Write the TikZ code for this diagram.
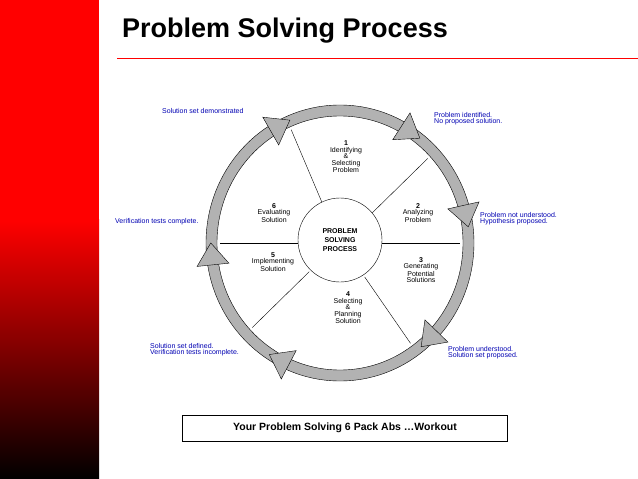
\documentclass[tikz,border=0pt]{standalone}
\usepackage{fontspec}
\setmainfont{Liberation Sans}
\usetikzlibrary{positioning}

\begin{document}
\begin{tikzpicture}[
    x=1pt, y=-1pt,
    every node/.style={font=\fontsize{7}{6.5}\selectfont, align=center},
    stepnode/.style={inner sep=0pt},
    note/.style={text=blue!70!black, align=left, inner sep=0pt}
]
\useasboundingbox (0,0) rectangle (638,479);

% Side band and title
\fill[red] (0,0) rectangle (99,220);
\shade[top color=red, bottom color=black] (0,219.5) rectangle (99,479);
\draw[red, line width=0.8pt] (117,58) -- (638,58);
\node[font=\fontsize{27}{28}\selectfont\bfseries, anchor=west, inner sep=0pt] (title) at (122,31) {Problem Solving Process};

% Ring
\begin{scope}[shift={(340,243)}, yscale=-1]
  \fill[gray!60, even odd rule] (0,0) ellipse [x radius=134, y radius=138] (0,0) ellipse [x radius=123, y radius=127];
  \draw (0,0) ellipse [x radius=134, y radius=138];
  \draw (0,0) ellipse [x radius=123, y radius=127];
  % Arrowheads (clockwise)
  \foreach \a in {58, 13, -45, -117, 186, 119} {
    \pgfmathsetmacro{\px}{128.5*cos(\a)}
    \pgfmathsetmacro{\py}{132.5*sin(\a)}
    \pgfmathsetmacro{\tx}{1.285*sin(\a)}
    \pgfmathsetmacro{\ty}{-1.325*cos(\a)}
    \pgfmathsetmacro{\tl}{sqrt(\tx*\tx+\ty*\ty)}
    \pgfmathsetmacro{\ux}{\tx/\tl}
    \pgfmathsetmacro{\uy}{\ty/\tl}
    \filldraw[fill=gray!60] (\px+14*\ux, \py+14*\uy)
      -- (\px-8*\ux-16*\uy, \py-8*\uy+16*\ux)
      -- (\px-8*\ux+16*\uy, \py-8*\uy-16*\ux) -- cycle;
  }
  % Spokes
  \foreach \a in {114, 43, 0, -54, -137, 180} {
    \draw (\a:42) -- ({120*cos(\a)}, {124*sin(\a)});
  }
\end{scope}

% Center
\node[circle, draw, fill=white, minimum size=84pt, font=\fontsize{7}{9}\selectfont\bfseries] (center) at (340,240) {PROBLEM\\SOLVING\\PROCESS};

% Steps
\node[stepnode] (s1) at (346,157) {\textbf{1}\\Identifying\\\&\\Selecting\\Problem};
\node[stepnode] (s2) at (418,213) {\textbf{2}\\Analyzing\\Problem};
\node[stepnode] (s3) at (421,270) {\textbf{3}\\Generating\\Potential\\Solutions};
\node[stepnode] (s4) at (348,308) {\textbf{4}\\Selecting\\\&\\Planning\\Solution};
\node[stepnode] (s5) at (273,262) {\textbf{5}\\Implementing\\Solution};
\node[stepnode] (s6) at (274,213) {\textbf{6}\\Evaluating\\Solution};

% Notes
\node[note, anchor=north west] (n1) at (434,112) {Problem identified.\\No proposed solution.};
\node[note, anchor=north west] (n2) at (480,212) {Problem not understood.\\Hypothesis proposed.};
\node[note, anchor=north west] (n3) at (448,346) {Problem understood.\\Solution set proposed.};
\node[note, anchor=north west] (n4) at (150,343) {Solution set defined.\\Verification tests incomplete.};
\node[note, anchor=north west] (n5) at (115,218) {Verification tests complete.};
\node[note, anchor=north west] (n6) at (162,108) {Solution set demonstrated};

% Bottom box
\node[draw, thick, minimum width=325pt, minimum height=26pt, font=\fontsize{10.5}{12}\selectfont\bfseries] (abs) at (345,428) {Your Problem Solving 6 Pack Abs \dots Workout};
\end{tikzpicture}
\end{document}
